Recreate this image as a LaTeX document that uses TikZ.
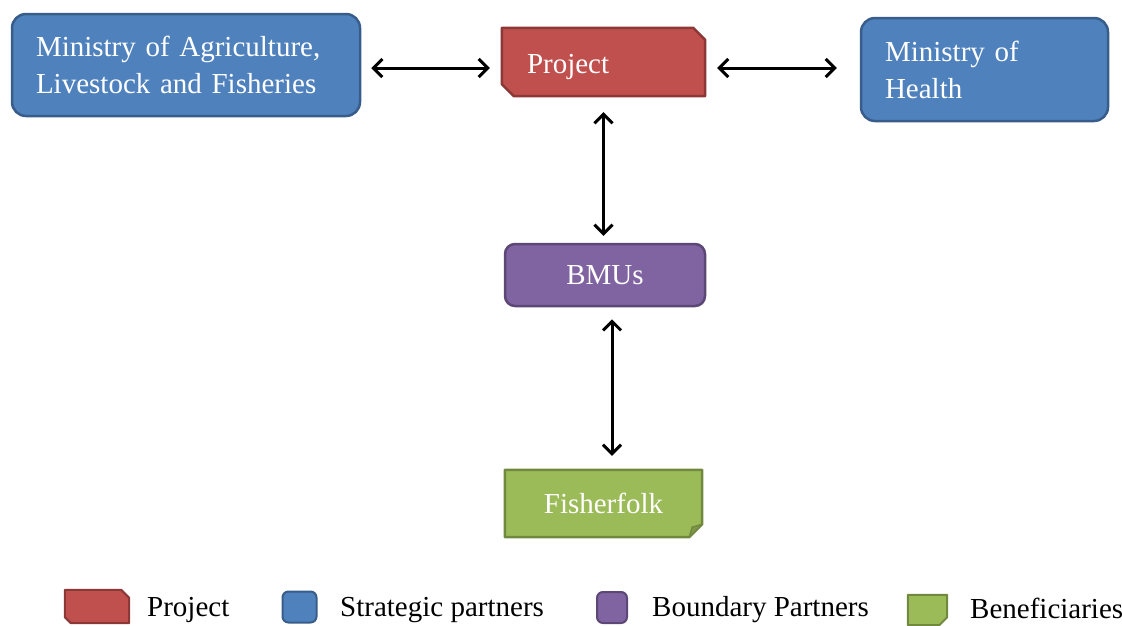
\documentclass[tikz,border=0pt]{standalone}
\usepackage{fontspec}
\setmainfont{Liberation Serif}
\usetikzlibrary{arrows.meta,backgrounds}
\definecolor{redF}{HTML}{C0504D}
\definecolor{redD}{HTML}{8C3836}
\definecolor{blueF}{HTML}{4F81BD}
\definecolor{blueD}{HTML}{385D8A}
\definecolor{purF}{HTML}{8064A2}
\definecolor{purD}{HTML}{5C4776}
\definecolor{grnF}{HTML}{9BBB59}
\definecolor{grnD}{HTML}{71893F}
\begin{document}
\begin{tikzpicture}[x=1pt,y=-1pt,
  txt/.style={font=\fontsize{29}{37}\selectfont},
  box/.style={txt, inner sep=0pt, text=white},
  strat/.style={box, fill=blueF, draw=blueD, line width=2.5pt, rounded corners=14pt},
  projshape/.style={fill=redF, draw=redD, line width=2.5pt, line join=round},
  purshape/.style={fill=purF, draw=purD, line width=2.5pt, rounded corners=10pt},
  grnshape/.style={fill=grnF, draw=grnD, line width=2.5pt, line join=round},
  arr/.style={line width=3pt, {Straight Barb[length=9pt,width=18pt]}-{Straight Barb[length=9pt,width=18pt]}},
  legtxt/.style={txt, anchor=base west, inner sep=0pt}
]
\useasboundingbox (0,0) rectangle (1122,625);

% main nodes
\node[strat, minimum width=348pt, minimum height=102pt, inner xsep=24pt, text width=300pt, align=left]
  (agr) at (186,65) {Ministry of Agriculture,\\Livestock and Fisheries};
\node[strat, minimum width=247pt, minimum height=103pt, inner xsep=24pt, text width=199pt, align=left]
  (health) at (984.5,69.5) {Ministry of\\Health};
\node[box, minimum width=203pt, minimum height=68pt, inner xsep=25pt, text width=153pt, align=left,
  text height=24pt, text depth=2pt]
  (proj) at (603.5,62) {Project};
\node[box, purshape, minimum width=200pt, minimum height=62pt] (bmu) at (605,275) {BMUs};
\node[box, minimum width=197pt, minimum height=67pt] (fish) at (603.5,503.5) {Fisherfolk};

\begin{scope}[on background layer]
  \filldraw[projshape] (proj.north west) -- ([xshift=-12pt]proj.north east) -- ([yshift=-12pt]proj.north east)
    -- (proj.south east) -- ([xshift=12pt]proj.south west) -- ([yshift=12pt]proj.south west) -- cycle;
  \filldraw[grnshape] (fish.north west) -- (fish.north east) -- ([yshift=13pt]fish.south east)
    -- ([xshift=-13pt]fish.south east) -- (fish.south west) -- cycle;
  \filldraw[grnshape, fill=grnD!70!grnF, line width=1.5pt] ([yshift=13pt]fish.south east)
    -- ([xshift=-13pt]fish.south east) -- ([xshift=-10pt,yshift=10pt]fish.south east) -- cycle;
\end{scope}

% connectors
\draw[arr, shorten <=10pt, shorten >=12pt] ([yshift=-3pt]agr.east) -- ([yshift=-6pt]proj.west);
\draw[arr, shorten <=12pt, shorten >=23pt] ([yshift=-6pt]proj.east) -- ([yshift=1.5pt]health.west);
\draw[arr, shorten <=16pt, shorten >=7pt] (proj.south) -- (proj.south |- bmu.north);
\draw[arr, shorten <=12pt, shorten >=14pt] ([xshift=7pt]bmu.south) -- ([xshift=8.5pt]fish.north);

% legend
\node[minimum width=64pt, minimum height=33pt, inner sep=0pt] (lp) at (97,606.5) {};
\filldraw[projshape, line width=2pt] (lp.north west) -- ([xshift=-8pt]lp.north east) -- ([yshift=-8pt]lp.north east)
  -- (lp.south east) -- ([xshift=6pt]lp.south west) -- ([yshift=6pt]lp.south west) -- cycle;
\node[legtxt] (lpt) at (147,616) {Project};

\node[fill=blueF, draw=blueD, line width=2pt, rounded corners=6pt, minimum width=34pt, minimum height=31pt, inner sep=0pt]
  (ls) at (299.5,607) {};
\node[legtxt] (lst) at (340,616) {Strategic partners};

\node[fill=purF, draw=purD, line width=2pt, rounded corners=6pt, minimum width=30pt, minimum height=31pt, inner sep=0pt]
  (lb) at (612,607.5) {};
\node[legtxt] (lbt) at (652,616) {Boundary Partners};

\node[minimum width=39pt, minimum height=30pt, inner sep=0pt] (lg) at (927.5,610) {};
\filldraw[grnshape, line width=2pt] (lg.north west) -- (lg.north east) -- ([yshift=8pt]lg.south east)
  -- ([xshift=-8pt]lg.south east) -- (lg.south west) -- cycle;
\node[legtxt] (lgt) at (970,618) {Beneficiaries};
\end{tikzpicture}
\end{document}
